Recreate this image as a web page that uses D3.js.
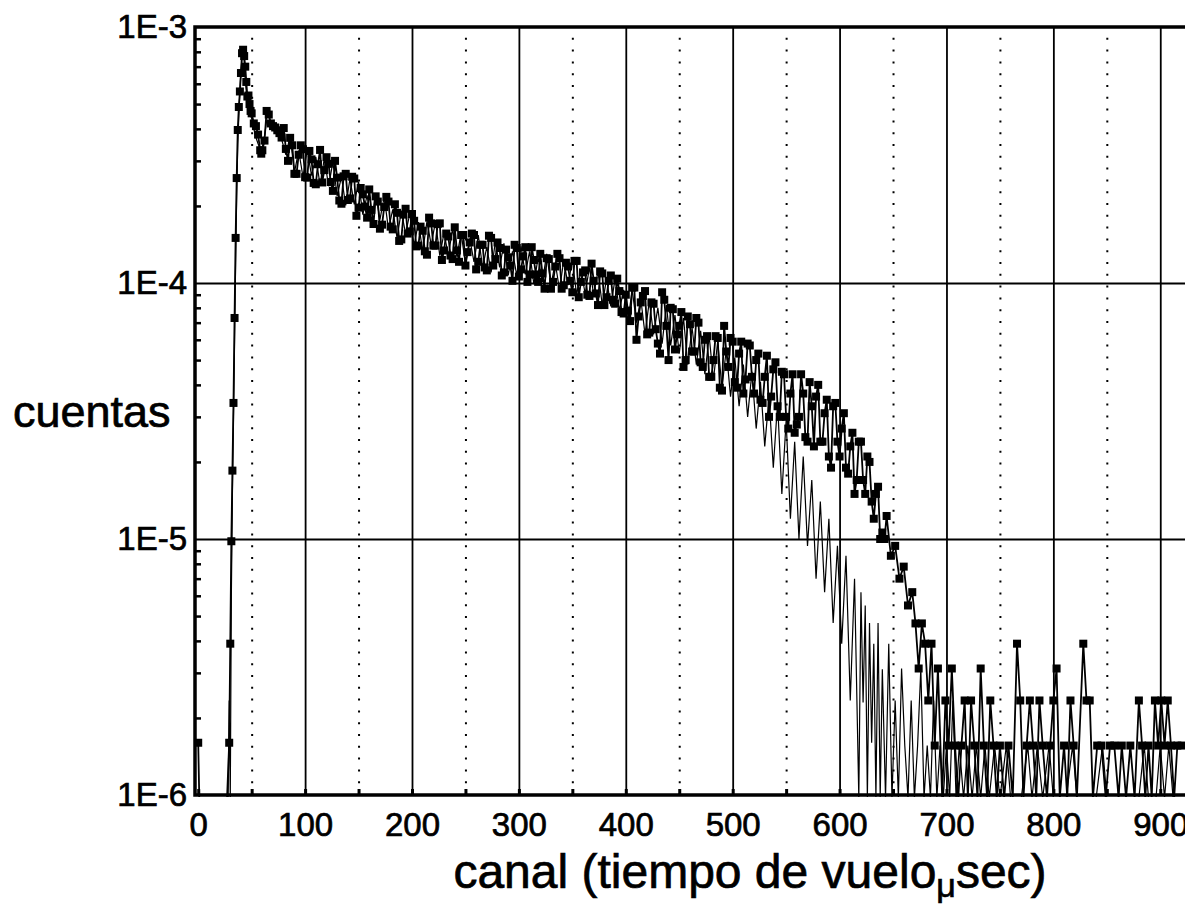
<!DOCTYPE html>
<html>
<head>
<meta charset="utf-8">
<script src="https://cdn.jsdelivr.net/npm/d3@7"></script>
<style>
  body { margin: 0; background: #fff; }
  svg { display: block; font-family: "Liberation Sans", Arial, sans-serif; }
  .lbl { fill: #000; stroke: #000; stroke-width: 0.7px; }
</style>
</head>
<body>
<div class="chart"></div>
<script>
// Time of flight spectrum, two runs
// values are cuentas in units of 1E-6, 0 = empty channel

// run with square markers: [canal, cuentas]
var seriesA = [
  [0, 1.6], [1, 0], [27, 0], [29, 1.6], [30, 3.9], [31, 9.8], [32, 18.5], [33, 34], [34, 73],
  [35, 150], [36, 257], [37, 396], [38, 487], [39, 560], [40, 661], [41, 790], [42, 815],
  [43, 770], [44, 700], [45, 610], [46, 535], [47, 540], [48, 500], [49, 470], [50, 460],
  [52, 420], [54, 410], [56, 380], [58, 330], [59, 320], [60, 330], [62, 360], [64, 470],
  [66, 455], [68, 420], [70, 410], [72, 405], [74, 395], [76, 385], [78, 370],
  [80, 403], [84, 300], [88, 345], [92, 267], [96, 345], [100, 259], [104, 328], [108, 246],
  [112, 291], [116, 247], [120, 310], [124, 248], [128, 300], [132, 210], [136, 261], [140, 211],
  [144, 260], [148, 183], [152, 235], [156, 199], [160, 232], [164, 170], [168, 208], [172, 169],
  [176, 217], [180, 166], [184, 203], [188, 146], [192, 185], [196, 156], [200, 186], [204, 139],
  [208, 166], [212, 133], [216, 180], [220, 140], [224, 170], [228, 123], [232, 156], [236, 128],
  [240, 165], [244, 121], [248, 154], [252, 132], [256, 156], [260, 113], [264, 141], [268, 115],
  [272, 153], [276, 117], [280, 144], [284, 107], [288, 135], [292, 117], [296, 141], [300, 106],
  [304, 127], [308, 101], [312, 138], [316, 108], [320, 130], [324, 95], [328, 124], [332, 101],
  [336, 130], [340, 95], [344, 120], [348, 102], [352, 122], [356, 88], [360, 110], [364, 90],
  [368, 119], [372, 91], [376, 111], [380, 82], [384, 102], [388, 86], [392, 104], [396, 77],
  [400, 90], [404, 71], [408, 96], [412, 74], [416, 89], [420, 63], [424, 84], [428, 66],
  [432, 53], [436, 86], [440, 50], [444, 79], [448, 63], [452, 77], [456, 50], [460, 69],
  [464, 54], [468, 70], [472, 47], [476, 62], [480, 43], [484, 62], [488, 39], [492, 68],
  [496, 47], [500, 59], [504, 39], [508, 59], [512, 42], [516, 57], [520, 37], [524, 53],
  [528, 34], [532, 52], [536, 36], [540, 49], [544, 30], [548, 44], [552, 27], [556, 44],
  [560, 28], [564, 44], [568, 25], [572, 41], [576, 23], [580, 40], [584, 24], [588, 35],
  [592, 19], [596, 34], [600, 21], [604, 31], [608, 18], [612, 26], [616, 17], [620, 24],
  [624, 15], [628, 20], [632, 12], [636, 16], [640, 10.6], [644, 12.3], [648, 8.6], [652, 9.4],
  [656, 7], [660, 7.8], [664, 5.5], [668, 6.2],
  [671, 4.68], [674, 3.12], [677, 4.68], [680, 3.9], [683, 2.34], [686, 3.9], [689, 1.56],
  [692, 3.12], [696, 0], [699, 2.34], [702, 1.56], [705, 3.12], [708, 1.56],
  [711, 0], [714, 1.56], [717, 2.34], [720, 0], [723, 2.34], [726, 1.56], [729, 0], [732, 3.12],
  [735, 1.56], [738, 0], [741, 2.34], [744, 1.56], [747, 0], [750, 1.56], [754, 0], [758, 1.56],
  [762, 0], [766, 3.9], [769, 2.34], [772, 0], [775, 1.56], [778, 2.34], [781, 1.56], [784, 0],
  [787, 2.34], [790, 1.56], [794, 0], [797, 1.56], [800, 2.34], [803, 3.12], [806, 0], [810, 1.56],
  [813, 0], [816, 2.34], [819, 1.56], [822, 0], [828, 3.9], [831, 2.34], [834, 2.34], [837, 0],
  [841, 1.56], [845, 1.56], [849, 0], [853, 1.56], [857, 1.56], [861, 0], [864, 1.56], [868, 0],
  [872, 1.56], [876, 0], [880, 2.34], [883, 1.56], [886, 0], [889, 1.56], [892, 0], [895, 2.34],
  [898, 1.56], [901, 2.34], [904, 1.56], [907, 2.34], [910, 1.56], [913, 0], [916, 1.56], [920, 1.56]
];

// same run, the channels in between (marker band is dense in the original)
var seriesAMid = [
  [82, 334], [86, 369], [90, 267], [94, 317], [98, 333], [102, 258], [106, 304], [110, 243],
  [114, 331], [118, 276], [122, 292], [126, 229], [130, 258], [134, 204], [138, 267], [142, 214],
  [146, 256], [150, 197], [154, 222], [158, 180], [162, 193], [166, 218], [170, 163], [174, 198],
  [178, 208], [182, 162], [186, 188], [190, 148], [194, 195], [198, 159], [202, 175], [206, 140],
  [210, 160], [214, 129], [218, 171], [222, 140], [226, 171], [230, 134], [234, 152], [238, 124],
  [242, 134], [246, 154], [250, 117], [254, 144], [258, 154], [262, 121], [266, 141], [270, 112],
  [274, 150], [278, 124], [282, 137], [286, 110], [290, 126], [294, 102], [298, 137], [302, 113],
  [306, 138], [310, 108], [314, 123], [318, 101], [322, 109], [326, 125], [330, 95], [334, 116],
  [338, 125], [342, 98], [346, 116], [350, 92], [354, 122], [358, 101], [362, 112], [366, 89],
  [370, 102], [374, 82], [378, 109], [382, 88], [386, 107], [390, 83], [394, 93], [398, 76],
  [402, 78], [406, 96], [410, 60], [414, 84], [418, 93], [422, 64], [426, 83], [430, 58],
  [434, 92], [438, 68], [442, 80], [446, 55], [450, 68], [454, 47], [458, 74], [462, 54],
  [466, 73], [470, 49], [474, 60], [478, 43], [482, 50], [486, 61], [490, 38], [494, 54],
  [498, 61], [502, 41], [506, 53], [510, 37], [514, 58], [518, 43], [522, 50], [526, 35],
  [530, 43], [534, 30], [538, 46], [542, 33], [546, 45], [550, 30], [554, 37], [558, 26],
  [562, 30], [566, 37], [570, 24], [574, 33], [578, 36], [582, 24], [586, 31], [590, 21],
  [594, 33], [598, 24], [602, 27], [606, 19], [610, 23], [614, 15], [618, 24], [622, 17],
  [626, 21], [630, 14], [634, 15], [638, 10], [642, 10]
];

// run drawn as a thin line only: [canal, cuentas]
var seriesB = [
  [27, 0], [28, 0], [29, 2.34], [30, 0], [31, 6], [32, 15], [33, 30], [34, 60], [35, 120],
  [36, 220], [37, 350], [38, 450], [39, 560], [40, 680], [41, 760], [42, 800], [43, 740],
  [44, 620], [45, 560], [46, 510], [48, 460], [50, 440], [52, 400], [54, 370], [56, 350],
  [58, 335], [60, 340], [62, 375], [64, 430], [66, 420], [68, 410], [70, 400], [72, 390],
  [74, 380], [76, 370], [78, 365],
  [82, 317], [86, 375], [90, 270], [94, 329], [98, 260], [102, 331], [106, 263], [110, 311],
  [114, 242], [118, 307], [122, 239], [126, 297], [130, 219], [134, 260], [138, 201], [142, 255],
  [146, 203], [150, 249], [154, 185], [158, 220], [162, 174], [166, 224], [170, 177], [174, 217],
  [178, 162], [182, 194], [186, 150], [190, 191], [194, 156], [198, 187], [202, 140], [206, 173],
  [210, 133], [214, 174], [218, 141], [222, 174], [226, 128], [230, 157], [234, 128], [238, 163],
  [242, 127], [246, 157], [250, 118], [254, 149], [258, 121], [262, 154], [266, 115], [270, 138],
  [274, 110], [278, 145], [282, 115], [286, 143], [290, 107], [294, 133], [298, 107], [302, 139],
  [306, 108], [310, 133], [314, 99], [318, 126], [322, 101], [326, 130], [330, 98], [334, 120],
  [338, 94], [342, 123], [346, 98], [350, 123], [354, 90], [358, 112], [362, 91], [366, 115],
  [370, 90], [374, 111], [378, 82], [382, 104], [386, 81], [390, 104], [394, 78], [398, 94],
  [402, 71], [406, 94], [410, 70], [414, 87], [418, 63], [422, 85], [426, 63], [430, 80],
  [434, 58], [438, 82], [442, 57], [446, 75], [450, 53], [454, 73], [458, 48], [462, 67],
  [466, 48], [470, 65], [474, 44], [478, 62], [482, 42], [486, 59], [490, 39], [494, 55],
  [498, 36], [502, 51], [506, 33], [510, 48], [514, 30], [518, 45], [522, 27], [526, 41],
  [530, 23], [534, 36], [538, 19], [542, 34], [546, 15], [550, 29], [554, 12], [558, 24],
  [562, 10], [566, 21], [570, 9.4], [574, 17], [578, 7], [582, 14], [586, 6.2], [590, 12],
  [594, 4.7], [598, 9.4], [602, 3.9], [606, 8.6], [610, 2.34], [614, 7], [618, 0], [620, 6.2],
  [622, 2.3], [624, 5.5], [626, 0], [628, 4.7], [630, 1.6], [632, 3.9], [634, 0], [636, 4.7],
  [638, 0], [640, 3.1], [643, 0], [646, 3.9], [649, 0], [652, 2.34], [655, 0], [658, 3.12],
  [661, 1.56], [664, 0], [667, 2.34], [670, 0], [673, 1.56], [676, 3.12], [679, 0], [682, 1.56],
  [685, 0], [688, 2.34], [691, 0], [694, 1.56], [697, 0], [700, 1.56], [703, 0], [706, 2.34],
  [709, 0], [712, 1.56], [716, 0], [720, 1.56], [724, 0], [728, 1.56], [732, 0], [736, 1.56],
  [740, 0], [745, 1.56], [750, 0], [756, 1.56], [760, 0], [770, 0], [776, 1.56], [780, 0],
  [785, 1.56], [790, 0], [796, 1.56], [800, 0], [812, 0], [818, 1.56], [822, 0], [840, 0],
  [846, 1.56], [850, 0], [880, 0], [885, 1.56], [889, 0], [896, 0], [900, 1.56], [904, 0],
  [908, 1.56], [912, 0], [920, 0]
];

var unit = 1e-6;

// axis ticks
var xTicks = [0, 100, 200, 300, 400, 500, 600, 700, 800, 900];
var xHalfTicks = [50, 150, 250, 350, 450, 550, 650, 750, 850];
var yTicks = [1e-3, 1e-4, 1e-5, 1e-6];
var yTickLabels = ["1E-3", "1E-4", "1E-5", "1E-6"];
var yMinorTicks = [2e-6, 3e-6, 4e-6, 5e-6, 6e-6, 7e-6, 8e-6, 9e-6,
                   2e-5, 3e-5, 4e-5, 5e-5, 6e-5, 7e-5, 8e-5, 9e-5,
                   2e-4, 3e-4, 4e-4, 5e-4, 6e-4, 7e-4, 8e-4, 9e-4];

var svgWidth = 1185;
var svgHeight = 922;
var margin = { top: 27, left: 195 };
// the plot runs past the right edge, the original scan is cut there
var width = 1000;
var height = 768;

var svg = d3.select(".chart")
  .append("svg")
  .attr("width", svgWidth)
  .attr("height", svgHeight);

var chartGroup = svg.append("g")
  .attr("transform", `translate(${margin.left}, ${margin.top})`);

// merge both halves of the marker run, sorted by canal
var runA = seriesA.concat(seriesAMid).sort((a, b) => a[0] - b[0]);

// scales
var xScale = d3.scaleLinear()
  .domain([-3, 932.5])
  .range([0, width]);

var yScale = d3.scaleLog()
  .domain([1e-6, 1e-3])
  .range([height, 0])
  .clamp(true);

function yOf(v) {
  return v > 0 ? yScale(v * unit) : height + 3;
}

// grid: solid every 100, dotted at the 50s
chartGroup.append("g")
  .attr("transform", `translate(0, ${height})`)
  .call(d3.axisBottom(xScale).tickValues(xTicks.slice(1)).tickSize(-height).tickFormat(""))
  .call(g => g.select(".domain").remove())
  .selectAll("line")
  .attr("stroke", "#000")
  .attr("stroke-width", 1.8);

chartGroup.append("g")
  .attr("transform", `translate(0, ${height})`)
  .call(d3.axisBottom(xScale).tickValues(xHalfTicks).tickSize(-height).tickFormat(""))
  .call(g => g.select(".domain").remove())
  .selectAll("line")
  .attr("stroke", "#000")
  .attr("stroke-width", 2)
  .attr("stroke-dasharray", "2,9.8");

chartGroup.append("g")
  .call(d3.axisLeft(yScale).tickValues([1e-4, 1e-5]).tickSize(-width).tickFormat(""))
  .call(g => g.select(".domain").remove())
  .selectAll("line")
  .attr("stroke", "#000")
  .attr("stroke-width", 1.8);

// data
svg.append("clipPath").attr("id", "plotClip")
  .append("rect")
  .attr("x", 0).attr("y", 0)
  .attr("width", width).attr("height", height + 2);

var plot = chartGroup.append("g").attr("clip-path", "url(#plotClip)");

var line = d3.line()
  .x(d => xScale(d[0]))
  .y(d => yOf(d[1]));

plot.append("path")
  .datum(seriesB)
  .attr("fill", "none")
  .attr("stroke", "#000")
  .attr("stroke-width", 1.2)
  .attr("d", line);

plot.append("path")
  .datum(runA)
  .attr("fill", "none")
  .attr("stroke", "#000")
  .attr("stroke-width", 1.8)
  .attr("d", line);

plot.selectAll("rect.mark")
  .data(runA.filter(d => d[1] > 0))
  .enter()
  .append("rect")
  .attr("class", "mark")
  .attr("x", d => xScale(d[0]) - 4)
  .attr("y", d => yOf(d[1]) - 4)
  .attr("width", 8)
  .attr("height", 8)
  .attr("fill", "#000");

// inner ticks
chartGroup.append("g")
  .call(d3.axisRight(yScale).tickValues(yMinorTicks).tickSize(6).tickFormat(""))
  .call(g => g.select(".domain").remove())
  .selectAll("line")
  .attr("stroke", "#000")
  .attr("stroke-width", 2.5);

chartGroup.append("g")
  .attr("transform", `translate(0, ${height})`)
  .call(d3.axisTop(xScale).tickValues(xTicks.concat(xHalfTicks)).tickSize(6).tickFormat(""))
  .call(g => g.select(".domain").remove())
  .selectAll("line")
  .attr("stroke", "#000")
  .attr("stroke-width", 3);

// frame (left, bottom, top)
chartGroup.append("path")
  .attr("d", `M${width},0H0V${height}H${width}`)
  .attr("fill", "none")
  .attr("stroke", "#000")
  .attr("stroke-width", 3.5);

// tick labels
var yAxis = chartGroup.append("g")
  .call(d3.axisLeft(yScale).tickValues(yTicks).tickSize(0).tickPadding(8)
    .tickFormat((d, i) => yTickLabels[i]));
yAxis.select(".domain").remove();
yAxis.selectAll("text")
  .attr("class", "lbl")
  .attr("font-family", "'Liberation Sans', Arial, sans-serif")
  .attr("font-size", 33);

var xAxis = chartGroup.append("g")
  .attr("transform", `translate(0, ${height})`)
  .call(d3.axisBottom(xScale).tickValues(xTicks).tickSize(0).tickFormat(d3.format("d")));
xAxis.select(".domain").remove();
xAxis.selectAll("text")
  .attr("class", "lbl")
  .attr("y", 41)
  .attr("dy", 0)
  .attr("font-family", "'Liberation Sans', Arial, sans-serif")
  .attr("font-size", 33);

// axis titles
svg.append("text")
  .attr("class", "lbl")
  .attr("x", 13)
  .attr("y", 427)
  .attr("font-size", 45)
  .text("cuentas");

var xTitle = svg.append("text")
  .attr("class", "lbl")
  .attr("x", 750)
  .attr("y", 888)
  .attr("text-anchor", "middle")
  .attr("font-size", 48);
xTitle.append("tspan").text("canal (tiempo de vuelo");
xTitle.append("tspan").attr("font-size", 34).attr("dy", 9).text("\u03bc");
xTitle.append("tspan").attr("dy", -9).text("sec)");
</script>
</body>
</html>
